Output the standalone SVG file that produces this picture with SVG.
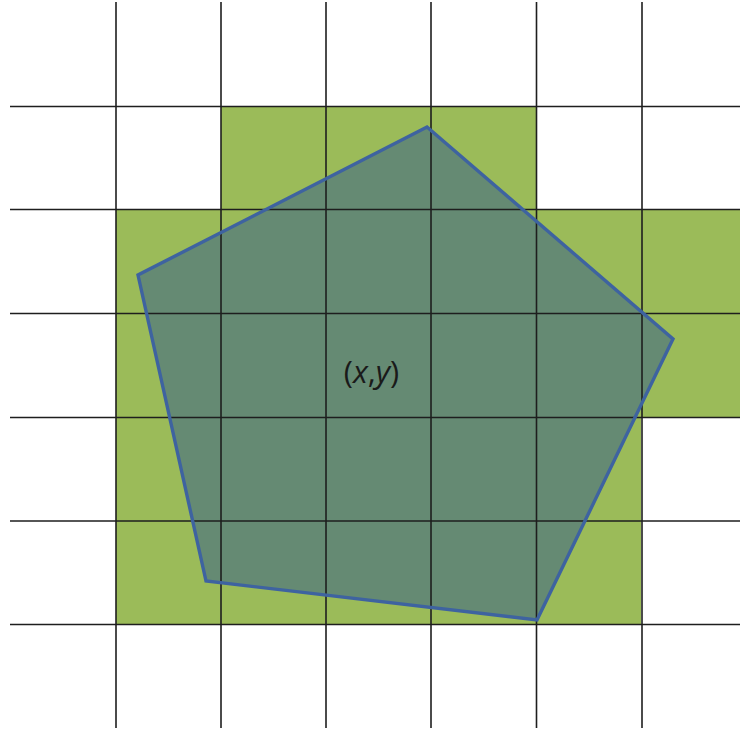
<svg xmlns="http://www.w3.org/2000/svg" width="740" height="732" viewBox="0 0 740 732">
<style>
.cell{fill:#9bbb59}
.grid line{stroke:#1e1e1e;stroke-width:1.6}
.poly-fill{fill:#658a73}
.poly-edge{fill:none;stroke:#3e63a0;stroke-width:3.4;stroke-linejoin:miter}
.lbl{font-family:"Open Sans","Liberation Sans",sans-serif;font-size:31px;fill:#1a1a1a}
</style>
<rect width="740" height="732" fill="#ffffff"/>
<g id="cells">
<rect class="cell" x="221" y="106.5" width="315" height="103"/>
<rect class="cell" x="116" y="209.5" width="624" height="208"/>
<rect class="cell" x="116" y="417.5" width="525" height="207"/>
</g>
<g id="polygon-fill">
<polygon class="poly-fill" points="427,127 673,339 537,620 206,581 138,275"/>
</g>
<g id="grid" class="grid">
<line x1="116" y1="2" x2="116" y2="728"/>
<line x1="221" y1="2" x2="221" y2="728"/>
<line x1="326" y1="2" x2="326" y2="728"/>
<line x1="431" y1="2" x2="431" y2="728"/>
<line x1="536.5" y1="2" x2="536.5" y2="728"/>
<line x1="642" y1="2" x2="642" y2="728"/>
<line x1="10" y1="106.5" x2="740" y2="106.5"/>
<line x1="10" y1="209.5" x2="740" y2="209.5"/>
<line x1="10" y1="313.5" x2="740" y2="313.5"/>
<line x1="10" y1="417.5" x2="740" y2="417.5"/>
<line x1="10" y1="521" x2="740" y2="521"/>
<line x1="10" y1="624.5" x2="740" y2="624.5"/>
</g>
<g id="polygon">
<polygon class="poly-edge" points="427,127 673,339 537,620 206,581 138,275"/>
<text class="lbl" x="371.5" y="383" text-anchor="middle">(<tspan font-style="italic">x</tspan>,<tspan font-style="italic">y</tspan>)</text>
</g>
</svg>
